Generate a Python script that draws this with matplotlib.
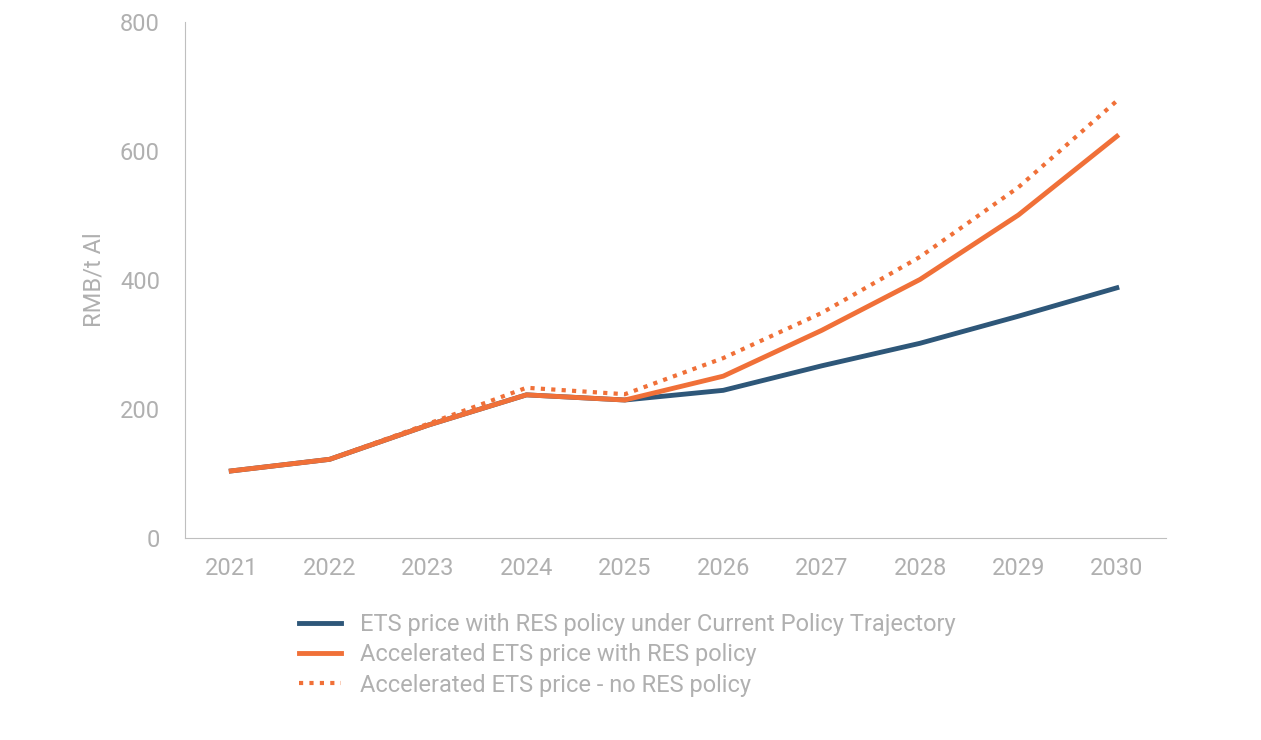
import matplotlib.pyplot as plt

plt.rcParams['font.family'] = ['Roboto', 'DejaVu Sans']

years = ['2021', '2022', '2023', '2024', '2025', '2026', '2027', '2028', '2029', '2030']
current_policy = [104, 122, 175, 222, 214, 229, 267, 302, 344, 388]
accel_res = [104, 122, 175, 222, 214, 251, 322, 401, 501, 623]
accel_no_res = [104, 122, 177, 233, 223, 279, 349, 436, 544, 678]

grey = '#b0b0b0'
blue = '#2e5779'
orange = '#f07038'

fig = plt.figure(figsize=(12.61, 7.4), dpi=100)
ax = fig.add_axes([0.1467, 0.273, 0.778, 0.697])
x = range(len(years))
ax.plot(x, current_policy, color=blue, lw=3.5, label='ETS price with RES policy under Current Policy Trajectory', zorder=2)
ax.plot(x, accel_res, color=orange, lw=3.5, label='Accelerated ETS price with RES policy', zorder=3)
ax.plot(x, accel_no_res, color=orange, lw=3, ls=(0, (1, 1.5)), label='Accelerated ETS price - no RES policy', zorder=4)

ax.set_xlim(-0.47, 9.5)
ax.set_ylim(0, 800)
ax.set_yticks([0, 200, 400, 600, 800])
ax.set_xticks(list(x))
ax.set_xticklabels(years)
ax.set_ylabel('RMB/t Al', color=grey, fontsize=17, labelpad=10)
for s in ['top', 'right']:
    ax.spines[s].set_visible(False)
for s in ['left', 'bottom']:
    ax.spines[s].set_color('#bfbfbf')
ax.tick_params(colors=grey, labelsize=17, length=0, pad=14)
ax.tick_params(axis='y', pad=18)

fig.legend(loc='lower left', bbox_to_anchor=(0.22, 0.03), frameon=False, fontsize=17,
           labelcolor=grey, handlelength=1.8, labelspacing=0.3)
plt.savefig('out.png')
